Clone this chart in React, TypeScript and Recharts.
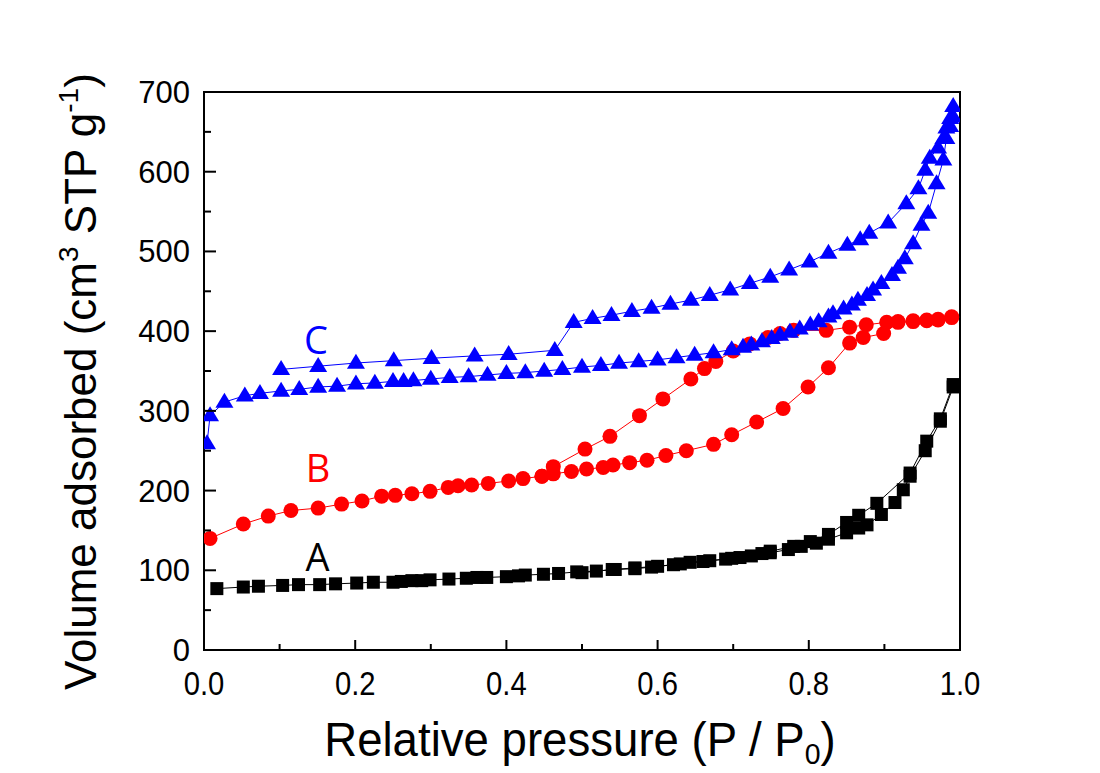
import React from 'react';
import { ScatterChart, Scatter, XAxis, YAxis, ReferenceArea, ReferenceDot, Label } from 'recharts';

// Sample A (black squares)
const aAdsorption: [number, number][] = [
  [0.017, 77], [0.052, 79], [0.072, 80], [0.104, 81], [0.125, 82], [0.153, 82], [0.174, 83], [0.202, 84],
  [0.224, 85], [0.25, 85], [0.261, 86], [0.275, 87], [0.288, 87], [0.299, 88], [0.324, 89], [0.347, 90],
  [0.361, 91], [0.374, 91], [0.4, 92], [0.416, 93], [0.425, 94], [0.449, 95], [0.469, 96], [0.493, 98],
  [0.519, 99], [0.544, 101], [0.57, 102], [0.592, 104], [0.621, 107], [0.643, 110], [0.669, 112], [0.698, 115],
  [0.724, 118], [0.749, 122], [0.773, 126], [0.79, 130], [0.81, 134], [0.826, 139], [0.85, 147], [0.866, 153],
  [0.877, 157], [0.896, 170], [0.914, 185], [0.925, 201], [0.934, 218], [0.954, 250], [0.974, 287], [0.991, 330],
];
const aDesorption: [number, number][] = [
  [0.991, 333], [0.974, 290], [0.956, 262], [0.934, 222], [0.89, 184], [0.866, 169], [0.85, 160], [0.826, 145],
  [0.802, 136], [0.78, 130], [0.749, 124], [0.738, 121], [0.709, 116], [0.69, 114], [0.66, 111], [0.63, 108],
  [0.6, 105], [0.57, 103], [0.54, 101], [0.5, 97],
];

// Sample B (red circles)
const bAdsorption: [number, number][] = [
  [0.008, 140], [0.052, 158], [0.085, 168], [0.115, 175], [0.151, 178], [0.182, 183], [0.209, 187], [0.235, 193],
  [0.253, 194], [0.275, 196], [0.299, 199], [0.323, 204], [0.336, 206], [0.354, 207], [0.376, 209], [0.403, 212],
  [0.422, 215], [0.447, 218], [0.462, 221], [0.486, 224], [0.506, 227], [0.528, 229], [0.541, 232], [0.563, 235],
  [0.586, 238], [0.611, 244], [0.638, 250], [0.674, 258], [0.698, 270], [0.731, 286], [0.766, 303], [0.799, 330],
  [0.826, 354], [0.854, 385], [0.872, 392], [0.899, 397], [0.918, 411], [0.938, 412], [0.956, 413], [0.971, 414],
  [0.989, 417],
];
const bDesorption: [number, number][] = [
  [0.989, 418], [0.971, 415], [0.956, 414], [0.938, 413], [0.918, 412], [0.903, 411], [0.876, 408], [0.854, 405],
  [0.823, 401], [0.78, 401], [0.762, 397], [0.746, 392], [0.722, 384], [0.7, 375], [0.677, 362], [0.662, 353],
  [0.644, 340], [0.607, 315], [0.576, 294], [0.537, 268], [0.504, 252], [0.462, 230], [0.447, 218],
];

// Sample C (blue triangles)
const cAdsorption: [number, number][] = [
  [0.004, 259], [0.008, 294], [0.027, 311], [0.054, 319], [0.074, 322], [0.102, 325], [0.126, 327], [0.151, 330],
  [0.176, 331], [0.201, 334], [0.226, 335], [0.25, 337], [0.264, 337], [0.277, 338], [0.3, 340], [0.325, 342],
  [0.35, 343], [0.375, 345], [0.4, 347], [0.425, 348], [0.45, 350], [0.474, 352], [0.5, 355], [0.525, 357],
  [0.549, 360], [0.575, 362], [0.6, 364], [0.625, 367], [0.649, 370], [0.674, 373], [0.698, 377], [0.713, 380],
  [0.724, 383], [0.738, 387], [0.751, 391], [0.762, 395], [0.775, 399], [0.788, 403], [0.802, 408], [0.813, 412],
  [0.826, 418], [0.832, 422], [0.846, 428], [0.857, 433], [0.865, 439], [0.877, 445], [0.885, 452], [0.896, 460],
  [0.91, 470], [0.918, 479], [0.927, 491], [0.938, 510], [0.949, 533], [0.958, 548], [0.969, 585], [0.978, 615],
  [0.982, 642], [0.987, 657], [0.991, 669],
];
const cDesorption: [number, number][] = [
  [0.991, 682], [0.987, 667], [0.982, 655], [0.978, 642], [0.971, 630], [0.96, 617], [0.954, 602], [0.945, 579],
  [0.929, 560], [0.905, 536], [0.88, 523], [0.868, 515], [0.851, 508], [0.826, 498], [0.801, 487], [0.774, 477],
  [0.749, 468], [0.722, 460], [0.696, 452], [0.669, 445], [0.644, 439], [0.617, 434], [0.592, 429], [0.566, 425],
  [0.539, 420], [0.514, 416], [0.489, 411], [0.464, 376], [0.403, 371], [0.358, 369], [0.301, 366], [0.251, 363],
  [0.201, 360], [0.151, 356], [0.102, 352],
];

const xTicks = [0, 0.1, 0.2, 0.3, 0.4, 0.5, 0.6, 0.7, 0.8, 0.9, 1.0];
const xMajor = [0, 0.2, 0.4, 0.6, 0.8, 1.0];
const yTicks = [0, 50, 100, 150, 200, 250, 300, 350, 400, 450, 500, 550, 600, 650, 700];
const yMajor = [0, 100, 200, 300, 400, 500, 600, 700];

const seriesLabels = [
  { name: 'A', x: 0.15, y: 116, color: '#000000' },
  { name: 'B', x: 0.151, y: 228, color: '#ff0000' },
  { name: 'C', x: 0.148, y: 388, color: '#0000ff' },
];

const toPts = (arr: [number, number][]) => arr.map(([x, y]) => ({ x, y }));

const isMajor = (list: number[], v: number) => list.some((m) => Math.abs(m - v) < 1e-9);

const SANS = "'Liberation Sans', Arial, sans-serif";

const XTick = (props: any) => {
  const { x, y, payload } = props;
  const major = isMajor(xMajor, payload.value);
  return (
    <g>
      <line x1={x} x2={x} y1={y} y2={y - (major ? 10 : 6)} stroke="#000" strokeWidth={2} />
      {major && (
        <text transform={`translate(${x},${y + 45}) scale(0.86,1)`} x={0} y={0} textAnchor="middle"
          fontSize={34} fill="#000" fontFamily={SANS}>
          {payload.value.toFixed(1)}
        </text>
      )}
    </g>
  );
};

const YTick = (props: any) => {
  const { x, y, payload } = props;
  const major = isMajor(yMajor, payload.value);
  return (
    <g>
      <line x1={x} x2={x + (major ? 12 : 7)} y1={y} y2={y} stroke="#000" strokeWidth={2} />
      {major && (
        <text x={x - 14} y={y + 11} textAnchor="end" fontSize={31} fill="#000" fontFamily={SANS}>
          {payload.value}
        </text>
      )}
    </g>
  );
};

const Square = (props: any) => {
  const { cx, cy } = props;
  const s = 13;
  return <rect x={cx - s / 2} y={cy - s / 2} width={s} height={s} fill="#000" />;
};
const Circle = (props: any) => {
  const { cx, cy } = props;
  return <circle cx={cx} cy={cy} r={7.5} fill="#ff0000" />;
};
const Triangle = (props: any) => {
  const { cx, cy } = props;
  const w = 18;
  const h = 15;
  return (
    <polygon
      points={`${cx},${cy - h * 0.62} ${cx - w / 2},${cy + h * 0.38} ${cx + w / 2},${cy + h * 0.38}`}
      fill="#0000ff"
    />
  );
};

const XLabel = (props: any) => {
  const vb = props.viewBox;
  const cx = vb.x + vb.width / 2 - 2;
  return (
    <text transform={`translate(${cx},${vb.y + 106}) scale(0.95,1)`} x={0} y={0} textAnchor="middle"
      fontSize={48} fill="#000" fontFamily={SANS}>
      Relative pressure (P / P
      <tspan fontSize={30} dy={8}>0</tspan>
      <tspan dy={-8}>)</tspan>
    </text>
  );
};

const YLabel = (props: any) => {
  const vb = props.viewBox;
  const cx = 96;
  const cy = vb.y + vb.height + 40;
  return (
    <text x={cx} y={cy} textAnchor="start" fontSize={44} fill="#000" transform={`rotate(-90, ${cx}, ${cy})`}
      fontFamily={SANS}>
      Volume adsorbed (cm
      <tspan fontSize={28} dy={-18}>3</tspan>
      <tspan dy={18}> STP g</tspan>
      <tspan fontSize={28} dy={-18}>-1</tspan>
      <tspan dy={18}>)</tspan>
    </text>
  );
};

export default function App() {
  return (
    <div style={{ position: 'absolute', left: 0, top: 0, width: 1100, height: 773, background: '#fff' }}>
      <ScatterChart width={1100} height={773} margin={{ top: 92, right: 140, bottom: 0, left: 0 }}>
        <XAxis
          type="number"
          dataKey="x"
          domain={[0, 1]}
          ticks={xTicks}
          height={123}
          axisLine={false}
          tickLine={false}
          tickSize={0}
          tickMargin={0}
          tick={<XTick />}
          interval={0}
          allowDataOverflow
        >
          <Label content={<XLabel />} />
        </XAxis>
        <YAxis
          type="number"
          dataKey="y"
          domain={[0, 700]}
          ticks={yTicks}
          width={204}
          axisLine={false}
          tickLine={false}
          tickSize={0}
          tickMargin={0}
          tick={<YTick />}
          interval={0}
          allowDataOverflow
        >
          <Label content={<YLabel />} />
        </YAxis>
        <ReferenceArea x1={0} x2={1} y1={0} y2={700} fill="none" stroke="#000" strokeWidth={2} ifOverflow="visible" />
        <Scatter data={toPts(aAdsorption)} line={{ stroke: '#000', strokeWidth: 1 }} shape={<Square />} isAnimationActive={false} />
        <Scatter data={toPts(aDesorption)} line={{ stroke: '#000', strokeWidth: 1 }} shape={<Square />} isAnimationActive={false} />
        <Scatter data={toPts(bAdsorption)} line={{ stroke: '#ff0000', strokeWidth: 1 }} shape={<Circle />} isAnimationActive={false} />
        <Scatter data={toPts(bDesorption)} line={{ stroke: '#ff0000', strokeWidth: 1 }} shape={<Circle />} isAnimationActive={false} />
        <Scatter data={toPts(cAdsorption)} line={{ stroke: '#0000ff', strokeWidth: 1 }} shape={<Triangle />} isAnimationActive={false} />
        <Scatter data={toPts(cDesorption)} line={{ stroke: '#0000ff', strokeWidth: 1 }} shape={<Triangle />} isAnimationActive={false} />
        {seriesLabels.map((s) => (
          <ReferenceDot
            key={s.name}
            x={s.x}
            y={s.y}
            r={0}
            fill="none"
            stroke="none"
            label={{ value: s.name, position: 'center', fill: s.color, fontSize: 38, fontFamily: "'Open Sans', sans-serif" }}
          />
        ))}
      </ScatterChart>
    </div>
  );
}
